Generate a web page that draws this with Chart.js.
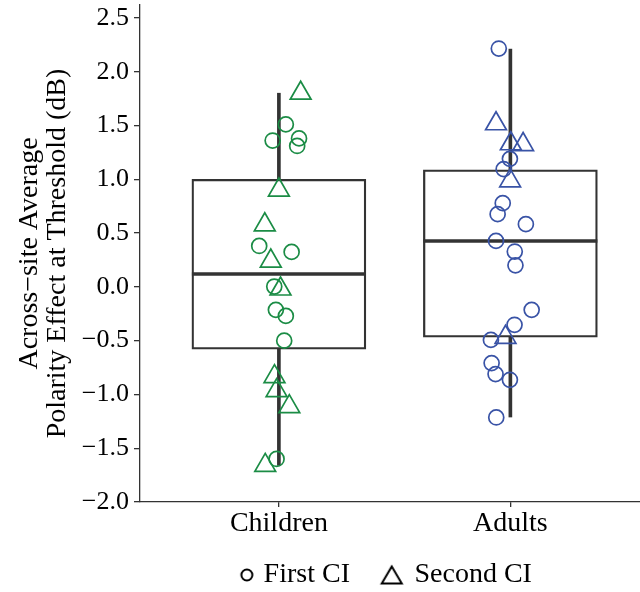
<!DOCTYPE html>
<html>
<head>
<meta charset="utf-8">
<script src="https://cdn.jsdelivr.net/npm/chart.js@4.4.1/dist/chart.umd.min.js"></script>
<style>
  body { margin: 0; background: #fff; }
</style>
</head>
<body>
<canvas id="polarityChart" width="640" height="592"></canvas>
<script>
const groups = ['Children', 'Adults'];
const groupX = [1, 2];
const yTicks = [-2.0, -1.5, -1.0, -0.5, 0.0, 0.5, 1.0, 1.5, 2.0, 2.5];
const legendNames = ['First CI', 'Second CI'];

// box summary, one entry per group (Children, Adults)
const whiskerLow = [-1.66, -1.21];
const lowerHinge = [-0.58, -0.467];
const medians = [0.12, 0.427];
const upperHinge = [1.00, 1.087];
const whiskerHigh = [1.80, 2.21];

// jittered points: x is group position plus jitter
const childFirstX = [1.030, 0.973, 1.087, 1.079, 0.915, 1.055, 0.980, 0.987, 1.030, 1.023, 0.990];
const childFirstY = [1.51, 1.36, 1.38, 1.31, 0.38, 0.325, 0.003, -0.214, -0.27, -0.50, -1.60];
const childSecondX = [1.094, 1.000, 0.939, 0.965, 1.007, 0.981, 0.990, 1.045, 0.941];
const childSecondY = [1.80, 0.90, 0.577, 0.24, -0.02, -0.835, -0.965, -1.113, -1.66];
const adultFirstX = [1.950, 1.998, 1.971, 1.967, 1.945, 2.067, 1.938, 2.019, 2.022, 2.092, 2.018, 1.916, 1.919, 1.936, 1.998, 1.939];
const adultFirstY = [2.215, 1.19, 1.094, 0.778, 0.676, 0.583, 0.427, 0.328, 0.20, -0.214, -0.353, -0.493, -0.709, -0.811, -0.864, -1.214];
const adultSecondX = [1.938, 2.002, 2.055, 1.999, 1.979];
const adultSecondY = [1.516, 1.33, 1.323, 0.985, -0.469];

const green = '#1b8c45';
const blue = '#3953a6';
const dark = '#333333';
const serif = "'Liberation Serif', 'Times New Roman', serif";

function zip(xs, ys) {
  return xs.map((x, i) => ({ x: x, y: ys[i] }));
}

function pointSet(xs, ys, color, shape, radius) {
  return {
    type: 'scatter',
    data: zip(xs, ys),
    pointStyle: shape,
    pointRadius: radius,
    pointHoverRadius: radius,
    pointBorderColor: color,
    pointBackgroundColor: 'rgba(0,0,0,0)',
    pointBorderWidth: 1.7
  };
}

// small black key symbols for the legend; the offset inside the canvas sets the gap to the text
function legendMarker(shape) {
  const c = document.createElement('canvas');
  c.width = 44;
  c.height = 24;
  const g = c.getContext('2d');
  g.strokeStyle = '#000';
  g.lineWidth = 2;
  g.beginPath();
  if (shape === 'circle') {
    g.arc(34, 12, 5.5, 0, 2 * Math.PI);
  } else {
    g.moveTo(28, 3.5);
    g.lineTo(38, 20.5);
    g.lineTo(18, 20.5);
    g.closePath();
  }
  g.stroke();
  return c;
}

document.addEventListener('DOMContentLoaded', function() {
  const ctx = document.getElementById('polarityChart').getContext('2d');

  const data = {
    datasets: [
      pointSet(childFirstX, childFirstY, green, 'circle', 7.5),
      pointSet(childSecondX, childSecondY, green, 'triangle', 12),
      pointSet(adultFirstX, adultFirstY, blue, 'circle', 7.5),
      pointSet(adultSecondX, adultSecondY, blue, 'triangle', 12),
      {
        // median line
        type: 'scatter',
        data: zip(groupX, medians),
        pointStyle: 'line',
        pointRadius: 87,
        pointHoverRadius: 87,
        pointBorderColor: dark,
        pointBorderWidth: 3.5
      },
      {
        // box from lower to upper hinge
        type: 'bar',
        data: groupX.map((x, i) => ({ x: x, y: [lowerHinge[i], upperHinge[i]] })),
        barThickness: 174,
        grouped: false,
        backgroundColor: 'rgba(255,255,255,0)',
        borderColor: dark,
        borderWidth: 1.6,
        borderSkipped: false
      },
      {
        type: 'bar',
        data: groupX.map((x, i) => ({ x: x, y: [upperHinge[i], whiskerHigh[i]] })),
        barThickness: 3,
        grouped: false,
        backgroundColor: dark,
        borderWidth: 0
      },
      {
        type: 'bar',
        data: groupX.map((x, i) => ({ x: x, y: [whiskerLow[i], lowerHinge[i]] })),
        barThickness: 3,
        grouped: false,
        backgroundColor: dark,
        borderWidth: 0
      }
    ]
  };

  const config = {
    type: 'scatter',
    data: data,
    options: {
      responsive: false,
      animation: false,
      layout: {
        autoPadding: false,
        padding: { top: 5, left: 0, right: 0, bottom: -7 }
      },
      scales: {
        x: {
          type: 'linear',
          min: 0.4,
          max: 2.56,
          offset: false,
          afterBuildTicks: function(scale) {
            scale.ticks = groupX.map(v => ({ value: v }));
          },
          afterFit: function(scale) {
            scale.height = 38;
            scale.paddingLeft = 0;
            scale.paddingRight = 0;
          },
          ticks: {
            autoSkip: false,
            maxRotation: 0,
            padding: 0,
            color: '#000',
            font: { family: serif, size: 28 },
            callback: function(value) {
              return groups[groupX.indexOf(value)];
            }
          },
          grid: {
            offset: false,
            drawOnChartArea: false,
            drawTicks: true,
            tickLength: 5,
            color: dark,
            lineWidth: 1.3
          },
          border: { display: true, color: dark, width: 1.3 }
        },
        y: {
          type: 'linear',
          min: -2.0,
          max: 2.62,
          afterBuildTicks: function(scale) {
            scale.ticks = yTicks.map(v => ({ value: v }));
          },
          afterFit: function(scale) {
            scale.width = 140;
            scale.paddingTop = 0;
            scale.paddingBottom = 0;
          },
          ticks: {
            padding: 5,
            color: '#000',
            font: { family: serif, size: 26 },
            callback: function(value) {
              return value.toFixed(1).replace('-', '\u2212');
            }
          },
          grid: {
            drawOnChartArea: false,
            drawTicks: true,
            tickLength: 6,
            color: dark,
            lineWidth: 1.3
          },
          border: { display: true, color: dark, width: 1.3 },
          title: {
            display: true,
            text: ['Across\u2212site Average', 'Polarity Effect at Threshold (dB)'],
            color: '#000',
            font: { family: serif, size: 28, lineHeight: 1.0 },
            padding: { top: 16, bottom: 0 }
          }
        }
      },
      plugins: {
        legend: {
          position: 'bottom',
          fullSize: false,
          labels: {
            usePointStyle: true,
            pointStyleWidth: 29.5,
            padding: 21,
            color: '#000',
            font: { family: serif, size: 28 },
            generateLabels: function() {
              return [
                { text: legendNames[0], pointStyle: legendMarker('circle'), fillStyle: '#000', strokeStyle: '#000', lineWidth: 0, hidden: false, datasetIndex: 0 },
                // trailing spaces widen the row so it sits where the original key sits
                { text: legendNames[1] + '    ', pointStyle: legendMarker('triangle'), fillStyle: '#000', strokeStyle: '#000', lineWidth: 0, hidden: false, datasetIndex: 1 }
              ];
            }
          }
        },
        tooltip: { enabled: false }
      }
    }
  };

  new Chart(ctx, config);
});
</script>
</body>
</html>
